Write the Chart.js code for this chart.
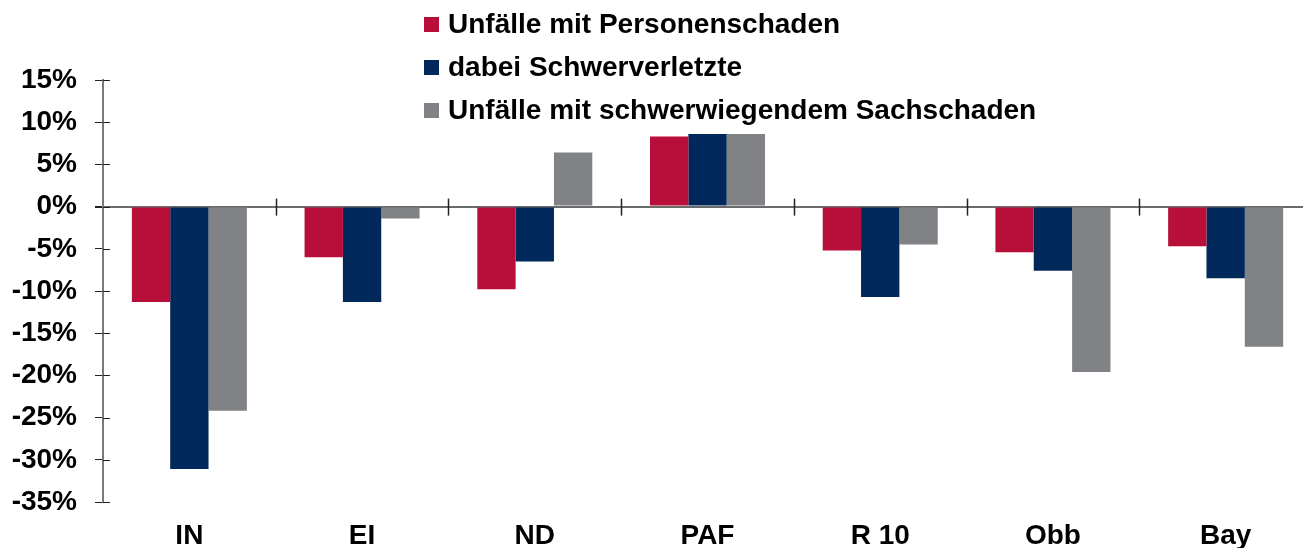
<!DOCTYPE html>
<html>
<head>
<meta charset="utf-8">
<script src="https://cdn.jsdelivr.net/npm/chart.js@4"></script>
<style>
    html, body { margin: 0; padding: 0; background: #ffffff; overflow: hidden; }
    #wrap { position: relative; width: 1312px; height: 548px; }
    #legend { position: absolute; left: 424px; top: 0; font-family: 'Liberation Sans', Arial, sans-serif; font-weight: bold; font-size: 28px; color: #000; }
    .item { position: absolute; left: 0; white-space: nowrap; line-height: 32px; height: 32px; }
    .item span.box { position: absolute; left: 0; top: 9px; width: 15px; height: 15px; }
    .item span.txt { position: absolute; left: 24px; top: 0; }
</style>
</head>
<body>
<div id="wrap">
    <canvas id="chart" width="1312" height="548"></canvas>
    <div id="legend"></div>
</div>
<script>
// Regions and year-on-year change (%)
const categories = ['IN', 'EI', 'ND', 'PAF', 'R 10', 'Obb', 'Bay'];
const personenschaden = [-11.3, -6.0, -9.8, 8.3, -5.2, -5.4, -4.7];
const schwerverletzte = [-31.1, -11.3, -6.5, 8.6, -10.7, -7.6, -8.5];
const sachschaden = [-24.2, -1.4, 6.4, 8.6, -4.5, -19.6, -16.6];
const seriesLabels = ['Unfälle mit Personenschaden', 'dabei Schwerverletzte', 'Unfälle mit schwerwiegendem Sachschaden'];

const colors = {
    red: '#b80f3a',
    navy: '#00285a',
    gray: '#808285',
    axis: '#7a7a7a',
    zero: '#6a6a6a',
    tick: '#222222'
};
const fontFamily = "'Liberation Sans', Arial, sans-serif";

// HTML legend (stacked, overlaps the plot area like the original)
const legendEl = document.getElementById('legend');
const legendColors = [colors.red, colors.navy, colors.gray];
const legendTops = [8, 51, 94];
seriesLabels.forEach((label, i) => {
    const row = document.createElement('div');
    row.className = 'item';
    row.style.top = legendTops[i] + 'px';
    row.innerHTML = '<span class="box" style="background:' + legendColors[i] + '"></span><span class="txt">' + label + '</span>';
    legendEl.appendChild(row);
});

// cross ticks on the zero line between categories, and inner half of y ticks
const crossTicks = {
    id: 'crossTicks',
    afterDraw(chart) {
        const { ctx, scales: { x, y } } = chart;
        const y0 = y.getPixelForValue(0);
        ctx.save();
        ctx.strokeStyle = colors.tick;
        ctx.lineWidth = 1.5;
        for (let i = 1; i <= categories.length; i++) {
            const px = Math.round((x.getPixelForValue(i - 1) + x.getPixelForValue(i)) / 2) + 0.5;
            ctx.beginPath();
            ctx.moveTo(px, y0 - 8);
            ctx.lineTo(px, y0 + 9);
            ctx.stroke();
        }
        ctx.lineWidth = 1;
        y.ticks.forEach(t => {
            const py = Math.round(y.getPixelForValue(t.value)) + 0.5;
            ctx.beginPath();
            ctx.moveTo(x.left, py);
            ctx.lineTo(x.left + 7, py);
            ctx.stroke();
        });
        ctx.restore();
    }
};

new Chart(document.getElementById('chart'), {
    type: 'bar',
    data: {
        labels: categories,
        datasets: [
            { label: seriesLabels[0], data: personenschaden, backgroundColor: colors.red },
            { label: seriesLabels[1], data: schwerverletzte, backgroundColor: colors.navy },
            { label: seriesLabels[2], data: sachschaden, backgroundColor: colors.gray }
        ]
    },
    options: {
        responsive: false,
        animation: false,
        devicePixelRatio: 1,
        layout: { padding: { top: 80, left: 0, right: 0, bottom: 0 } },
        datasets: {
            bar: { categoryPercentage: 0.666, barPercentage: 1.0, borderWidth: 0 }
        },
        plugins: {
            legend: { display: false },
            tooltip: { enabled: false }
        },
        scales: {
            x: {
                grid: { display: false },
                border: { display: false },
                ticks: {
                    color: '#000',
                    padding: 9,
                    font: { family: fontFamily, size: 28, weight: 'bold' }
                },
                afterFit: s => { s.height = 46; }
            },
            y: {
                min: -35,
                max: 15,
                border: { display: true, color: colors.axis, width: 2 },
                grid: {
                    drawOnChartArea: true,
                    tickLength: 8,
                    tickColor: colors.tick,
                    color: c => (c.tick && c.tick.value === 0 ? colors.zero : 'rgba(0,0,0,0)'),
                    lineWidth: c => (c.tick && c.tick.value === 0 ? 2 : 1)
                },
                ticks: {
                    stepSize: 5,
                    color: '#000',
                    padding: 18,
                    font: { family: fontFamily, size: 28, weight: 'bold' },
                    callback: v => v + '%'
                },
                afterFit: s => { s.width = 103; }
            }
        }
    },
    plugins: [crossTicks]
});
</script>
</body>
</html>
